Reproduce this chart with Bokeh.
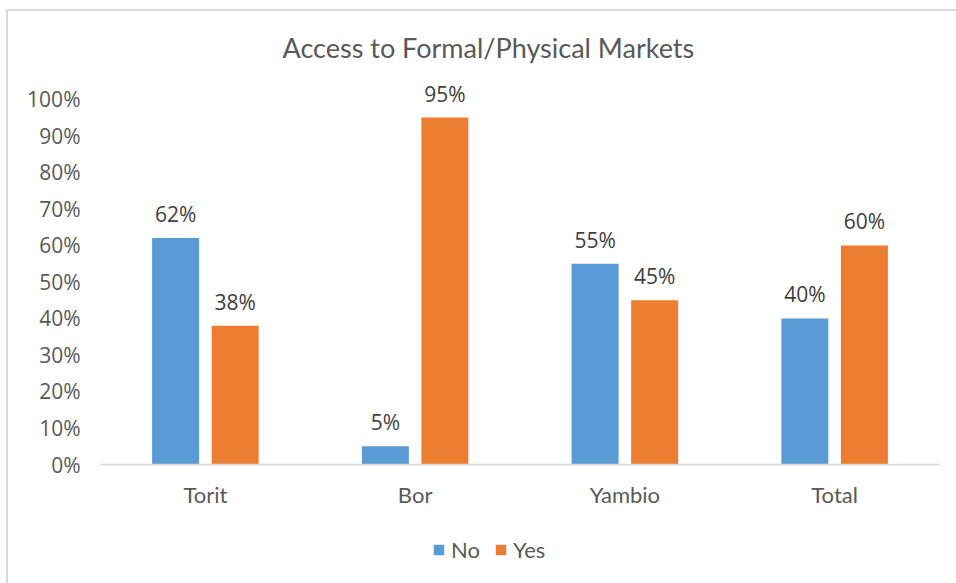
from bokeh.plotting import figure
from bokeh.layouts import column
from bokeh.models import (ColumnDataSource, FactorRange, Range1d, FixedTicker,
                          PrintfTickFormatter, LabelSet, Legend, LegendItem)
from bokeh.transform import dodge
from bokeh.core.properties import value
from bokeh.embed import file_html
from bokeh.resources import INLINE

# ---- data ----
title_text = "Access to Formal/Physical Markets"
categories = ["Torit", "Bor", "Yambio", "Total"]
series_names = ["No", "Yes"]
no_values = [62, 5, 55, 40]
yes_values = [38, 95, 45, 60]
y_ticks = [0, 10, 20, 30, 40, 50, 60, 70, 80, 90, 100]

# ---- style ----
BLUE = "#5B9BD5"
ORANGE = "#ED7D31"
TEXT = "#595959"
LABEL = "#404040"
LINE = "#D9D9D9"
NUM_FONT = "Open Sans"
CAT_FONT = "Lato"

src = ColumnDataSource(dict(
    cat=categories,
    no=no_values,
    yes=yes_values,
    no_lbl=[f"{v}%" for v in no_values],
    yes_lbl=[f"{v}%" for v in yes_values],
))

border_css = ("linear-gradient(#D9D9D9,#D9D9D9) 6px 9px / 2px 100% no-repeat, "
              "linear-gradient(#D9D9D9,#D9D9D9) 6px 9px / 100% 2px no-repeat, white")

p = figure(width=956, height=520, x_range=FactorRange(*categories),
           y_range=Range1d(0, 107.9), output_backend="svg", toolbar_location=None,
           title=title_text, min_border_left=100, min_border_right=17,
           min_border_top=70, min_border_bottom=56)
p.outline_line_color = None
p.background_fill_color = "white"
p.border_fill_color = None
p.border_fill_alpha = 0
p.xgrid.grid_line_color = None
p.ygrid.grid_line_color = None

p.title.align = "left"
p.title.offset = 182
p.title.text_font = CAT_FONT
p.title.text_font_size = "27px"
p.title.text_font_style = "normal"
p.title.text_color = TEXT
p.title.standoff = 14

off = 0.142
bw = 0.224
r_no = p.vbar(x=dodge("cat", -off, range=p.x_range), top="no", width=bw,
              source=src, fill_color=BLUE, line_color=None)
r_yes = p.vbar(x=dodge("cat", off, range=p.x_range), top="yes", width=bw,
               source=src, fill_color=ORANGE, line_color=None)

for col, lbl, o in (("no", "no_lbl", -off), ("yes", "yes_lbl", off)):
    p.add_layout(LabelSet(x=dodge("cat", o, range=p.x_range), y=col, text=lbl,
                          source=src, text_align="center",
                          text_baseline="alphabetic", y_offset=16,
                          text_font=value(NUM_FONT), text_font_size="21px",
                          text_color=LABEL))

# axes
p.yaxis.ticker = FixedTicker(ticks=y_ticks)
p.yaxis.formatter = PrintfTickFormatter(format="%d%%")
p.yaxis.axis_line_color = None
p.yaxis.major_tick_line_color = None
p.yaxis.minor_tick_line_color = None
p.yaxis.major_tick_out = 0
p.yaxis.major_label_standoff = 20
p.yaxis.major_label_text_font = NUM_FONT
p.yaxis.major_label_text_font_size = "21px"
p.yaxis.major_label_text_color = TEXT

p.xaxis.axis_line_color = LINE
p.xaxis.axis_line_width = 1.5
p.xaxis.major_tick_line_color = None
p.xaxis.minor_tick_line_color = None
p.xaxis.major_tick_out = 0
p.xaxis.major_label_standoff = 16
p.xaxis.major_label_text_font = CAT_FONT
p.xaxis.major_label_text_font_size = "22px"
p.xaxis.major_label_text_color = TEXT

# legend strip (separate small figure below the chart; its frame is aligned
# with the chart frame by the column layout)
lg = figure(width=956, height=63, x_range=Range1d(0, 1), y_range=Range1d(0, 1),
            output_backend="svg", toolbar_location=None,
            min_border=0, min_border_left=0, min_border_right=0,
            min_border_top=0, min_border_bottom=0)
lg.axis.visible = False
lg.grid.visible = False
lg.outline_line_color = None
lg.background_fill_alpha = 0
lg.border_fill_alpha = 0
# legend proxies: zero-height bars (nothing visible, only the legend swatches)
proxy = ColumnDataSource(dict(x=[0.5], top=[0.0]))
l_no = lg.vbar(x="x", top="top", width=0.1, source=proxy, fill_color=BLUE, line_color=None)
l_yes = lg.vbar(x="x", top="top", width=0.1, source=proxy, fill_color=ORANGE, line_color=None)

legend = Legend(items=[LegendItem(label=series_names[0], renderers=[l_no]),
                       LegendItem(label=series_names[1], renderers=[l_yes])],
                orientation="horizontal", location=(332, 20),
                glyph_width=13, glyph_height=13, label_standoff=6, spacing=14,
                padding=0, margin=0, border_line_color=None,
                background_fill_alpha=0,
                label_text_font=CAT_FONT, label_text_font_size="22px",
                label_text_color=TEXT)
lg.add_layout(legend, "center")

layout = column(p, lg, spacing=0, styles={"background": border_css})

open("out.html", "w").write(file_html(layout, INLINE))
